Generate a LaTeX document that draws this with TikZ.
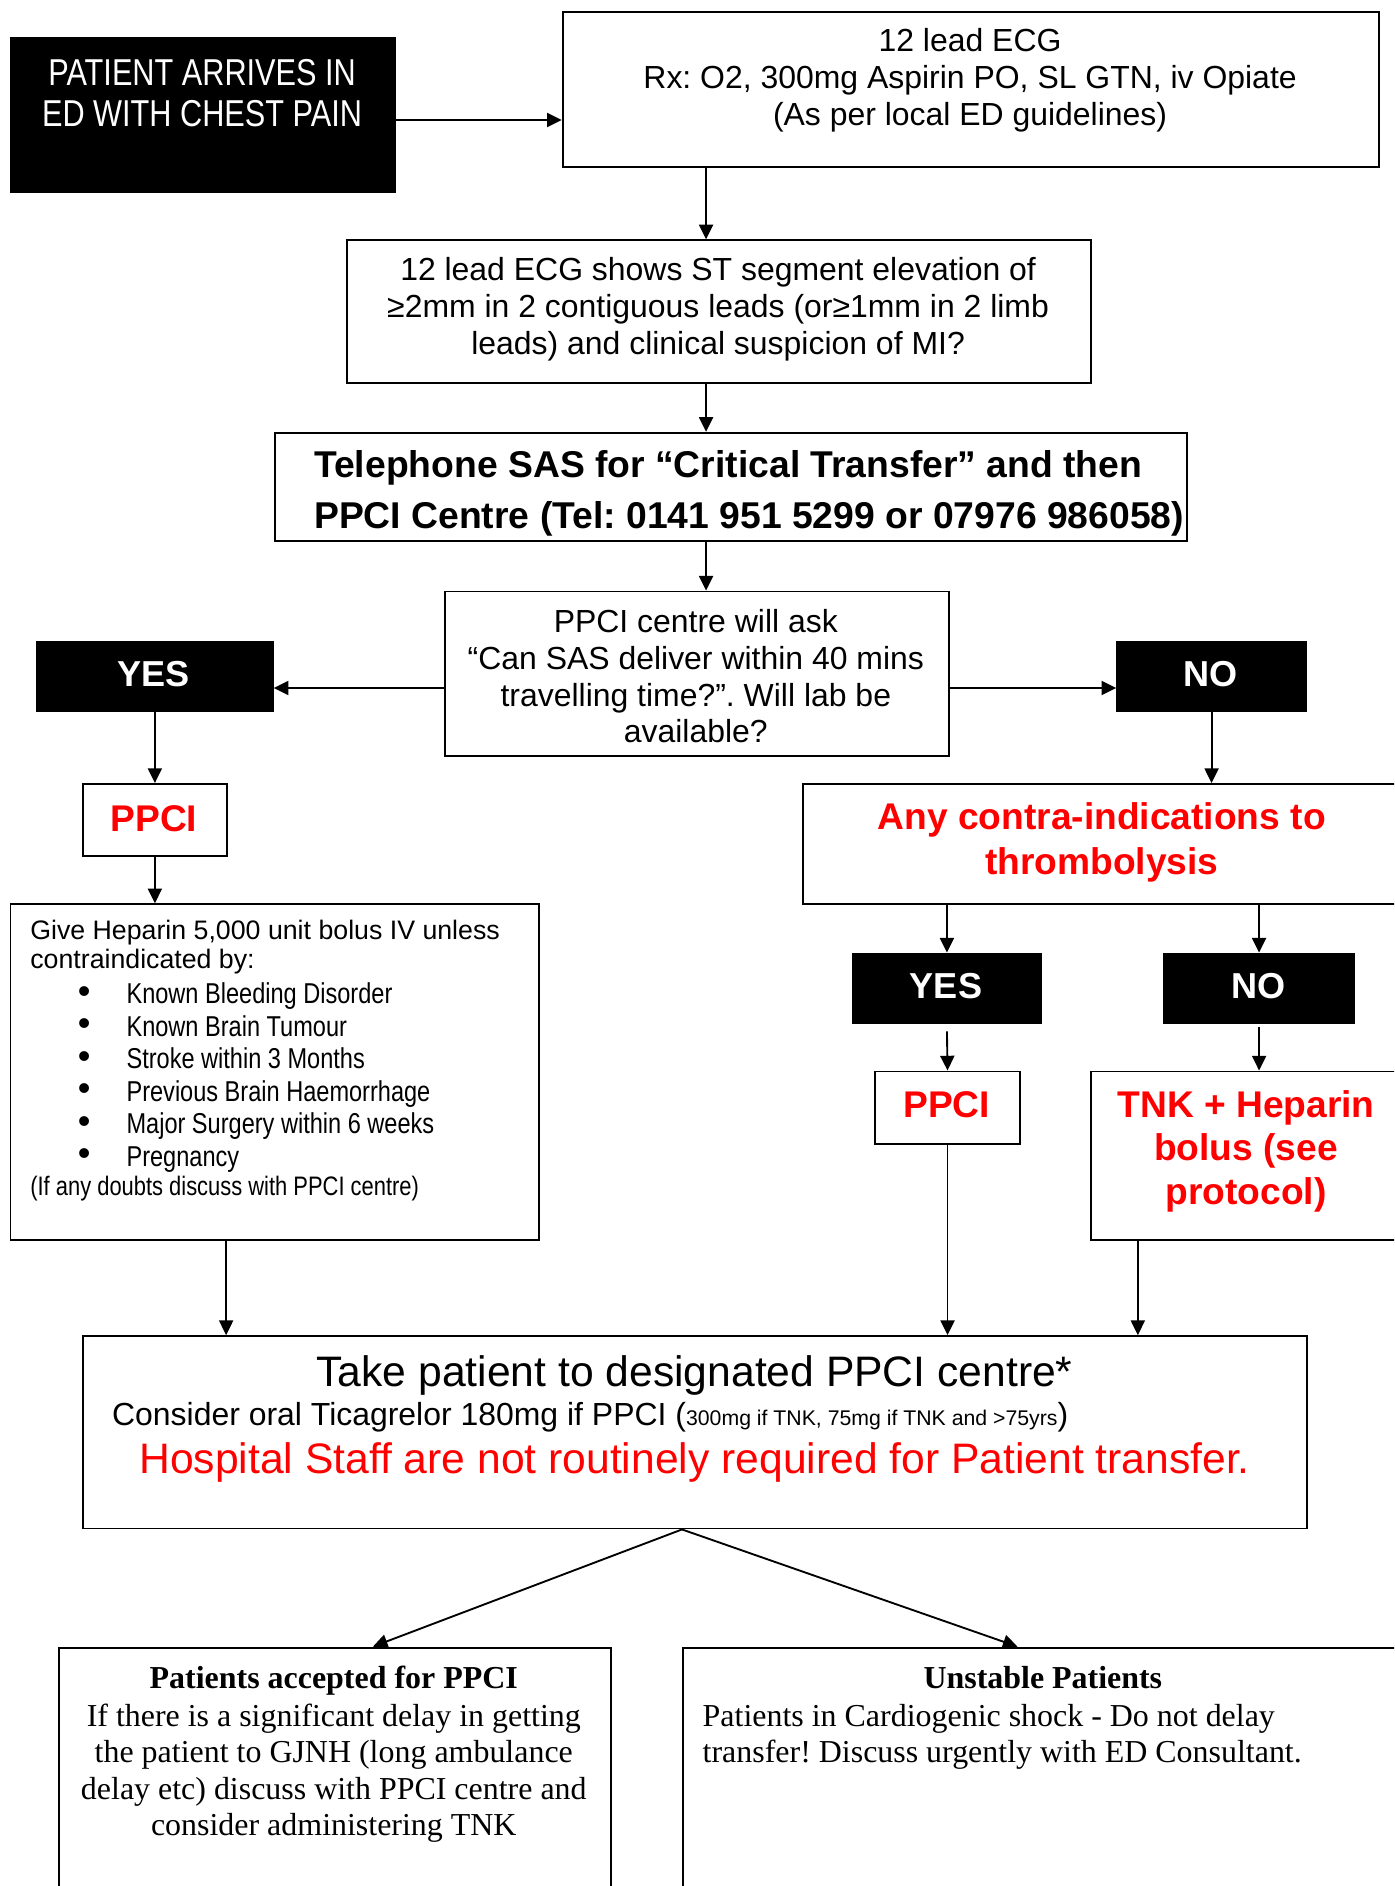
\documentclass[tikz,border=0pt]{standalone}
\usepackage{fontspec}
\setmainfont{Liberation Sans}
\newfontfamily\narrowfont[FakeStretch=0.82]{Liberation Sans}
\newfontfamily\timesfont{Liberation Serif}
\usetikzlibrary{arrows.meta,calc}
\definecolor{ered}{RGB}{255,0,0}
\newcommand\fs[1]{\fontsize{#1}{#1}\selectfont}
\frenchspacing
\tikzset{
  sz/.style 2 args={minimum width=#1*0.9pt, minimum height=#2*0.9pt},
  box/.style={draw=black, line width=1.4pt, inner sep=0pt, anchor=north west},
  blackbox/.style={fill=black, draw=black, line width=1.4pt, inner sep=0pt, anchor=north west},
  arr/.style={line width=1.4pt, -{Triangle[length=11pt,width=10.5pt]}},
  t/.style={inner sep=0pt, anchor=base},
  tl/.style={inner sep=0pt, anchor=base west},
  reg/.style={font=\fs{23.9}},
  wbold/.style={font=\fs{27}\bfseries, text=white},
  rbold/.style={font=\fs{27.8}\bfseries, text=ered},
  tms/.style={font=\timesfont\fs{23.9}},
}
\begin{document}
\begin{tikzpicture}[x=0.9pt, y=-0.9pt]
\clip (0,0) rectangle (1159,1568);
\fill[white] (0,0) rectangle (1159,1568);

% boxes
\node[blackbox, sz={320}{128}] (start) at (8,31) {};
\node[box, sz={679}{129}] (ecg1) at (467,9) {};
\node[box, sz={618}{119}] (ecg2) at (288,199) {};
\node[box, sz={758}{90}] (tel) at (228,359) {};
\node[box, sz={419}{137}] (q) at (369,491) {};
\node[blackbox, sz={196}{57}] (yes) at (30,533) {};
\node[blackbox, sz={157}{57}] (no) at (928,533) {};
\node[box, sz={120}{60}] (ppci) at (68,651) {};
\node[box, sz={439}{279}] (hep) at (8,751) {};
\node[box, sz={499}{100}] (contra) at (667,651) {};
\node[blackbox, sz={157}{58}] (yes2) at (708,792) {};
\node[blackbox, sz={158}{58}] (no2) at (967,792) {};
\node[box, sz={120}{60}] (ppci2) at (727,890) {};
\node[box, sz={260}{140}] (tnk) at (906,890) {};
\node[box, sz={1018}{160}] (bot) at (68,1110) {};
\node[box, sz={459}{300}] (lbox) at (48,1369) {};
\node[box, sz={600}{300}] (rbox) at (567,1369) {};

% texts
\node[t, font=\narrowfont\fs{28}, text=white] (s1) at (168,71) {PATIENT ARRIVES IN};
\node[t, font=\narrowfont\fs{28}, text=white] (s2) at (168,105) {ED WITH CHEST PAIN};

\node[t, reg] (e1) at (806.5,42.5) {12 lead ECG};
\node[t, reg] (e2) at (806.5,73.5) {Rx: O2, 300mg Aspirin PO, SL GTN, iv Opiate};
\node[t, reg] (e3) at (806.5,104) {(As per local ED guidelines)};

\node[t, reg] (f1) at (597,233.5) {12 lead ECG shows ST segment elevation of};
\node[t, reg] (f2) at (597,264) {≥2mm in 2 contiguous leads (or≥1mm in 2 limb};
\node[t, reg] (f3) at (597,294.5) {leads) and clinical suspicion of MI?};

\node[tl, font=\fs{27.9}\bfseries] (g1) at (261,397) {Telephone SAS for “Critical Transfer” and then};
\node[tl, font=\fs{27.9}\bfseries] (g2) at (261,439) {PPCI Centre (Tel: 0141 951 5299 or 07976 986058)};

\node[t, reg] (q1) at (578.5,526) {PPCI centre will ask};
\node[t, reg] (q2) at (578.5,556.5) {“Can SAS deliver within 40 mins};
\node[t, reg] (q3) at (578.5,587) {travelling time?”. Will lab be};
\node[t, reg] (q4) at (578.5,617.5) {available?};

\node[t, wbold] (yt) at (128,571) {YES};
\node[t, wbold] (nt) at (1006.5,571) {NO};
\node[t, rbold] (pt) at (128,691) {PPCI};

\node[tl, font=\fs{20}] (h1) at (25,781) {Give Heparin 5,000 unit bolus IV unless};
\node[tl, font=\fs{20}] (h2) at (25,805) {contraindicated by:};
\foreach \i/\txt in {0/Known Bleeding Disorder, 1/Known Brain Tumour, 2/Stroke within 3 Months, 3/Previous Brain Haemorrhage, 4/Major Surgery within 6 weeks, 5/Pregnancy}{
  \node[inner sep=0pt, font=\fs{27}] (hb\i) at (70,827+27*\i) {•};
  \node[tl, font=\narrowfont\fs{21.5}] (hi\i) at (105,834.5+27*\i) {\txt};
}
\node[tl, font=\narrowfont\fs{20}] (h9) at (25,994) {(If any doubts discuss with PPCI centre)};

\node[t, rbold] (c1) at (916,690) {Any contra-indications to};
\node[t, rbold] (c2) at (916,727) {thrombolysis};

\node[t, wbold] (y2t) at (786.5,830) {YES};
\node[t, wbold] (n2t) at (1046,830) {NO};
\node[t, rbold] (p2t) at (787,929) {PPCI};

\node[t, rbold] (k1) at (1036,929) {TNK + Heparin};
\node[t, rbold] (k2) at (1036,965) {bolus (see};
\node[t, rbold] (k3) at (1036,1001) {protocol)};

\node[t, font=\fs{31.9}] (b1) at (577.5,1153) {Take patient to designated PPCI centre*};
\node[tl, font=\fs{23.9}] (b2) at (93,1185.5) {Consider oral Ticagrelor 180mg if PPCI ({\fs{15.9}300mg if TNK, 75mg if TNK and >75yrs})};
\node[t, font=\fs{31.9}, text=ered] (b3) at (577.5,1225) {Hospital Staff are not routinely required for Patient transfer.};

\node[t, tms, font=\timesfont\fs{23.9}\bfseries] (l0) at (277.5,1404) {Patients accepted for PPCI};
\node[t, tms] (l1) at (277.5,1435) {If there is a significant delay in getting};
\node[t, tms] (l2) at (277.5,1465.5) {the patient to GJNH (long ambulance};
\node[t, tms] (l3) at (277.5,1496) {delay etc) discuss with PPCI centre and};
\node[t, tms] (l4) at (277.5,1526) {consider administering TNK};

\node[t, tms, font=\timesfont\fs{23.9}\bfseries] (r0) at (867,1404) {Unstable Patients};
\node[tl, tms] (r1) at (584,1435) {Patients in Cardiogenic shock - Do not delay};
\node[tl, tms] (r2) at (584,1465.5) {transfer! Discuss urgently with ED Consultant.};

% connectors
\coordinate (cx) at (587,0);
\coordinate (cy) at (0,572);
\coordinate (hx) at (188,0);
\coordinate (tx) at (946,0);
\coordinate (ax) at (567,0);
\coordinate (lx) at (310,0);
\coordinate (rx) at (846,0);

\draw[arr] ($(start.east)+(0,4)$) -- ($(start.east -| ecg1.west)+(0,4)$);
\draw[arr] (ecg1.south -| cx) -- (ecg2.north -| cx);
\draw[arr] (ecg2.south -| cx) -- (tel.north -| cx);
\draw[arr] (tel.south -| cx) -- (q.north -| cx);
\draw[arr] (q.west |- cy) -- (yes.east |- cy);
\draw[arr] (q.east |- cy) -- (no.west |- cy);
\draw[arr] (yes.south) -- (ppci.north);
\draw[arr] (ppci.south) -- (hep.north -| ppci.south);
\draw[arr] (no.south) -- (no.south |- contra.north);
\draw[arr] (contra.south -| yes2.north) -- (yes2.north);
\draw[arr] (contra.south -| no2.north) -- (no2.north);
\draw[arr] ($(yes2.south)+(0,6)$) -- (ppci2.north);
\draw[arr] ($(no2.south)+(0,2)$) -- (tnk.north -| no2.south);
\draw[arr] (hep.south -| hx) -- (bot.north -| hx);
\draw[arr] (ppci2.south) -- (bot.north -| ppci2.south);
\draw[arr] (tnk.south -| tx) -- (bot.north -| tx);
\draw[arr] (bot.south -| ax) -- (lbox.north -| lx);
\draw[arr] (bot.south -| ax) -- (rbox.north -| rx);
\end{tikzpicture}
\end{document}
